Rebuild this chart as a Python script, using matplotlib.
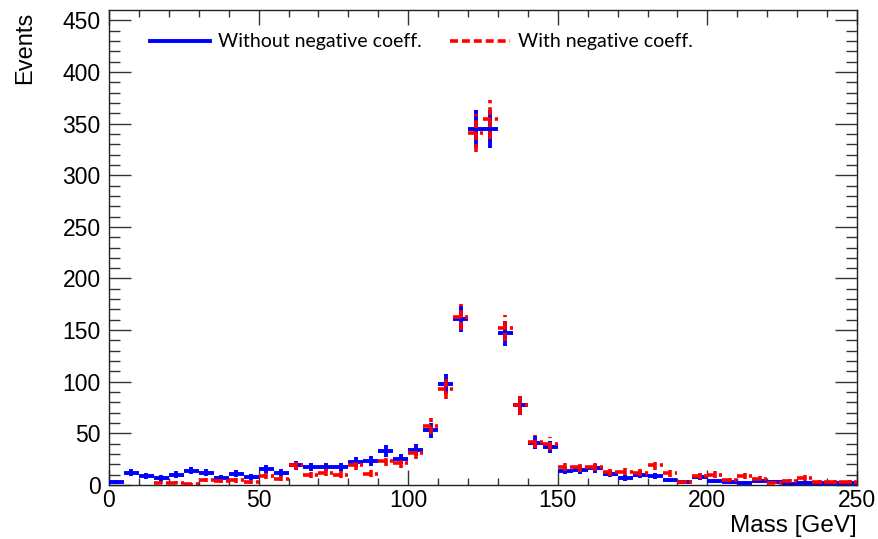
import numpy as np
import matplotlib
matplotlib.use("Agg")
import matplotlib.pyplot as plt

# 5 GeV bins from 0 to 250
bin_edges = np.arange(0, 255, 5)
without_neg = [3, 12, 9, 7, 10, 14, 12, 7, 11, 8,
               15.5, 12, 19, 17.5, 17.5, 17.5, 22, 23, 33, 25,
               34, 53, 98, 161, 345, 345, 147, 77, 41, 37,
               14, 15, 16, 11, 7, 10, 9, 5, 3, 7.5,
               4, 3, 2, 4, 3, 1, 2, 2, 2, 2]
with_neg = [0, 0, 0, 2, 2, 1, 5, 4, 4.5, 3,
            8.7, 6, 19, 9.4, 12, 10, 19, 11, 23, 21,
            31, 57, 93, 163, 341, 354, 152, 77, 42, 40,
            17.8, 17.2, 17.5, 12.3, 13, 12, 19.4, 11.3, 3, 9,
            10, 5, 9, 6, 2, 4, 7, 3, 3, 3]

plt.rcParams["font.family"] = ["Liberation Sans", "DejaVu Sans"]

fig = plt.figure(figsize=(8.79, 5.39), dpi=100)
ax = fig.add_axes([109 / 879, 1 - 485 / 539, (857 - 109) / 879, (485 - 10) / 539])

centers = 0.5 * (bin_edges[:-1] + bin_edges[1:])
half = 0.5 * np.diff(bin_edges)


def draw_hist(values, color, lw, dashed):
    vals = np.asarray(values, dtype=float)
    keep = vals > 0  # empty bins are not drawn
    eb = ax.errorbar(centers[keep], vals[keep], xerr=half[keep], yerr=np.sqrt(vals[keep]),
                     fmt="none", ecolor=color, elinewidth=lw, capsize=0, zorder=3)
    if dashed:
        for coll in eb[2]:
            coll.set_linestyle((0, (2.2, 1.1)))
    return eb


draw_hist(without_neg, "#0000ff", 2.8, False)
draw_hist(with_neg, "#ff0000", 2.6, True)

ax.set_xlim(0, 250)
ax.set_ylim(0, 460)
ax.set_xticks(np.arange(0, 251, 50))
ax.set_xticks(np.arange(0, 251, 10), minor=True)
ax.set_yticks(np.arange(0, 451, 50))
ax.set_yticks(np.arange(0, 460, 10), minor=True)
ax.tick_params(axis="both", which="both", direction="in", top=True, right=True,
               width=1.0, color="#333333", labelsize=16.5)
ax.tick_params(axis="x", which="major", length=10.8, pad=3)
ax.tick_params(axis="x", which="minor", length=5)
ax.tick_params(axis="y", which="major", length=16, pad=6)
ax.tick_params(axis="y", which="minor", length=8)
for sp in ax.spines.values():
    sp.set_linewidth(1.0)
    sp.set_color("#222222")

fig.text(25 / 879, 1 - 12 / 539, "Events", rotation=90, ha="center", va="top", fontsize=17)
fig.text(857 / 879, 1 - 526 / 539, "Mass [GeV]", ha="right", va="center", fontsize=17.5)

blue_h = plt.Line2D([], [], color="#0000ff", lw=2.8)
red_h = plt.Line2D([], [], color="#ff0000", lw=2.6, linestyle=(0, (2.2, 1.1)))
ax.legend([blue_h, red_h], ["Without negative coeff.", "With negative coeff."],
          loc="center left", bbox_to_anchor=(150 / 879, 1 - 42 / 539),
          bbox_transform=fig.transFigure, ncols=2, frameon=False,
          borderpad=0, borderaxespad=0, handlelength=3.1, handletextpad=0.4,
          columnspacing=1.45, prop={"family": ["Lato", "DejaVu Sans"], "size": 14})

fig.savefig("out.png", dpi=100)
